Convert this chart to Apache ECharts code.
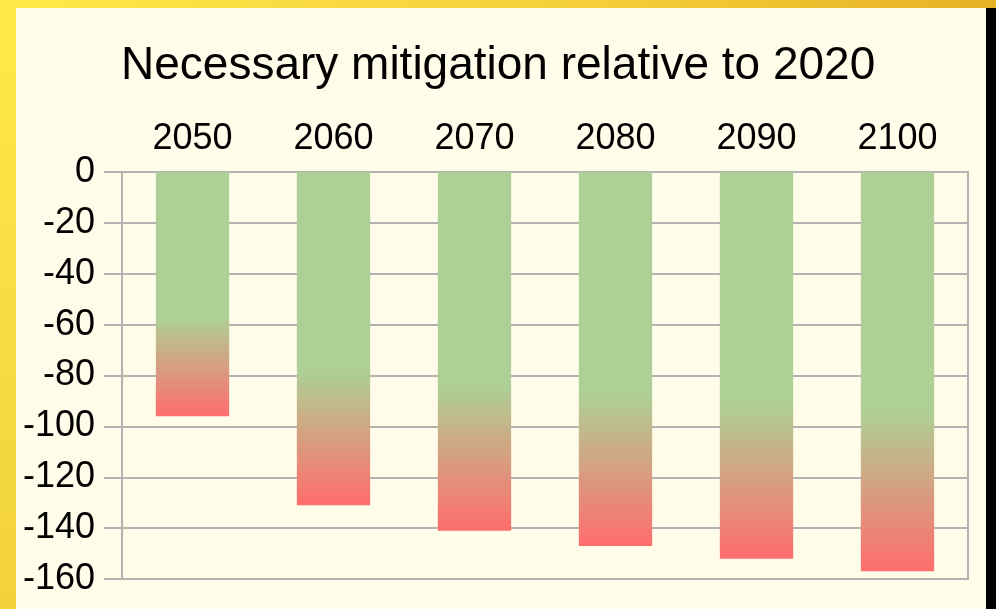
<!DOCTYPE html>
<html>
<head>
<meta charset="utf-8">
<title>Necessary mitigation</title>
<script src="https://cdn.jsdelivr.net/npm/echarts@6/dist/echarts.min.js"></script>
<style>
  html, body {
    margin: 0;
    padding: 0;
  }
  body {
    width: 996px;
    height: 609px;
    overflow: hidden;
    position: relative;
    background: linear-gradient(180deg, #ffe94a 0%, #f2d23a 100%);
  }
  #topBar {
    position: absolute;
    left: 0;
    top: 0;
    width: 996px;
    height: 8px;
    background: linear-gradient(90deg, #ffe94a 0%, #f4cf38 60%, #e6b125 100%);
  }
  #rightBar {
    position: absolute;
    left: 986px;
    top: 8px;
    width: 10px;
    height: 601px;
    background: #000;
  }
  #chart {
    position: absolute;
    left: 16px;
    top: 8px;
    width: 970px;
    height: 601px;
    background: #fffde9;
  }
</style>
</head>
<body>
<div id="topBar"></div>
<div id="rightBar"></div>
<div id="chart"></div>
<script>
var years = ['2050', '2060', '2070', '2080', '2090', '2100'];
var mitigation = [-96, -131, -141, -147, -152, -157];
var yMin = -160;
var yMax = 0;
var yStep = 20;

var chartPage = {

  gridColor: '#b3b3b3',
  textColor: '#000000',
  fontFamily: '"Liberation Sans", Arial, sans-serif',

  init: function () {
    var self = this;
    var myChart = echarts.init(document.getElementById('chart'));

    // green for the top part of each bar, fading to red at its end
    var barColor = new echarts.graphic.LinearGradient(0, 0, 0, 1, [
      { offset: 0, color: '#aecf95' },
      { offset: 0.6, color: '#aecf95' },
      { offset: 1, color: '#ff6d6d' }
    ]);

    var option = {
      animation: false,
      title: {
        text: 'Necessary mitigation relative to 2020',
        left: 100,
        top: 30,
        textStyle: {
          fontFamily: self.fontFamily,
          fontSize: 46,
          fontWeight: 'normal',
          color: self.textColor
        }
      },
      grid: {
        left: 106,
        top: 164,
        width: 846,
        height: 407,
        show: true,
        borderColor: self.gridColor,
        borderWidth: 2
      },
      xAxis: {
        type: 'category',
        position: 'top',
        data: years,
        axisLine: {
          lineStyle: { color: self.gridColor, width: 2 }
        },
        axisTick: {
          inside: true,
          length: 16,
          lineStyle: { color: self.gridColor, width: 2 }
        },
        axisLabel: {
          margin: 15,
          fontFamily: self.fontFamily,
          fontSize: 36,
          color: self.textColor
        }
      },
      yAxis: {
        type: 'value',
        min: yMin,
        max: yMax,
        interval: yStep,
        axisLine: {
          show: true,
          lineStyle: { color: self.gridColor, width: 2 }
        },
        axisTick: {
          show: true,
          length: 18,
          lineStyle: { color: self.gridColor, width: 2 }
        },
        splitLine: {
          lineStyle: { color: self.gridColor, width: 2 }
        },
        axisLabel: {
          margin: 27,
          fontFamily: self.fontFamily,
          fontSize: 36,
          color: self.textColor
        }
      },
      series: [
        {
          name: 'Mitigation',
          type: 'bar',
          barWidth: '52%',
          data: mitigation,
          itemStyle: {
            color: barColor
          }
        }
      ]
    };

    myChart.setOption(option);
  }
};

chartPage.init();
</script>
</body>
</html>
